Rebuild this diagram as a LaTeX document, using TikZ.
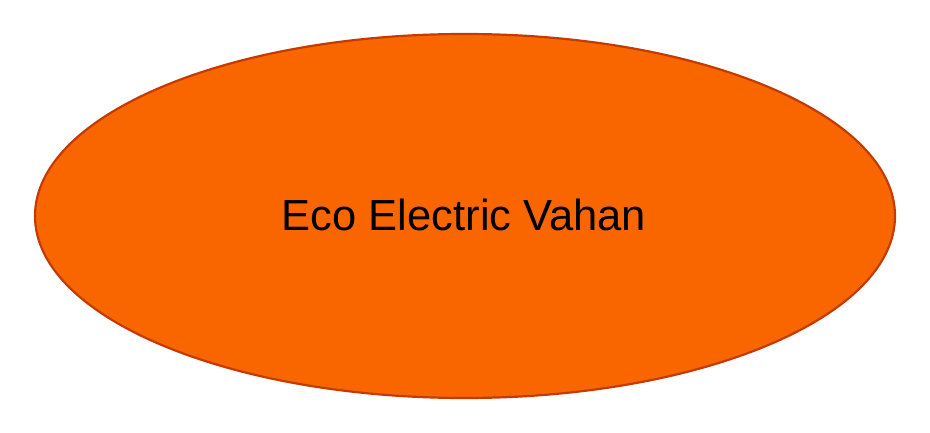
\documentclass[tikz,border=0pt]{standalone}
\usepackage{fontspec}
\setmainfont{Liberation Sans}
\definecolor{ovfill}{HTML}{F96600}
\definecolor{ovline}{HTML}{C43B00}
\begin{document}
\begin{tikzpicture}[x=1pt,y=-1pt]
\tikzset{oval/.style={draw=ovline,fill=ovfill,line width=2.2pt},
lbl/.style={font=\fontsize{43.5}{50}\selectfont,text=black,inner sep=0pt,anchor=base}}
\useasboundingbox (0,0) rectangle (930,433);
\path[oval] (465,216) ellipse [x radius=430, y radius=182];
\node[lbl] (t) at (464,230) {Eco Electric Vahan};
\end{tikzpicture}
\end{document}
